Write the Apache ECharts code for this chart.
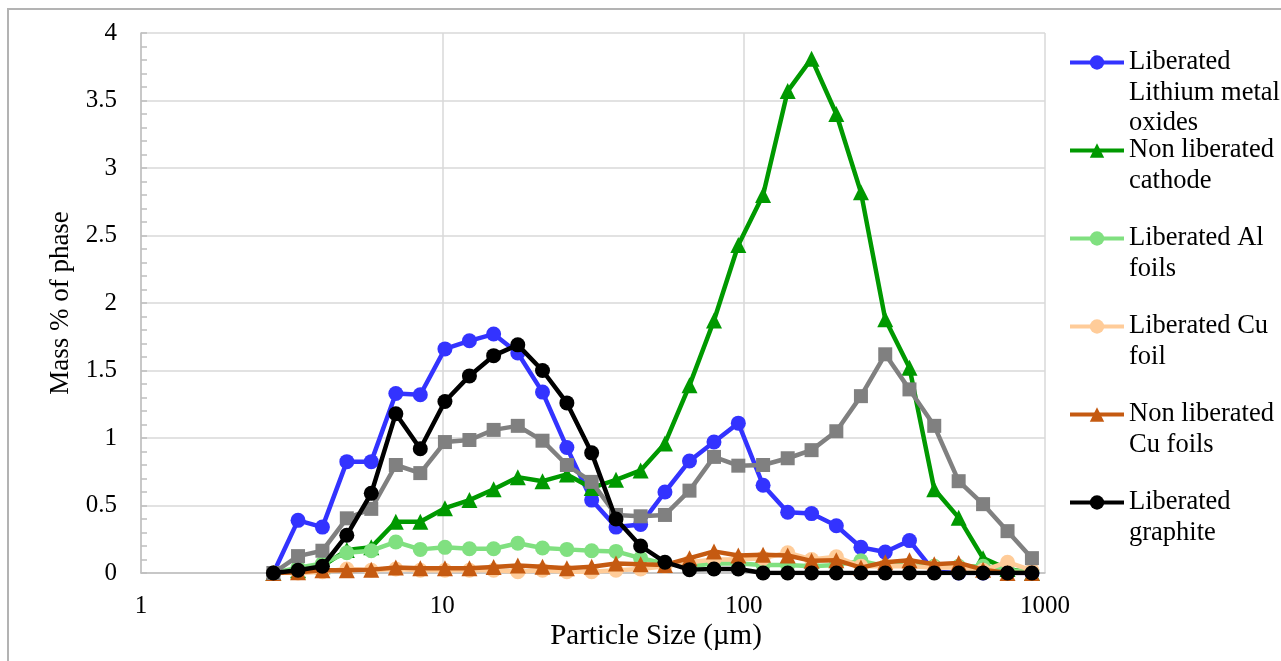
<!DOCTYPE html>
<html><head><meta charset="utf-8">
<script src="https://cdn.jsdelivr.net/npm/echarts@6/dist/echarts.min.js"></script>
<style>html,body{margin:0;padding:0;background:#fff}#chart{width:1281px;height:661px}</style>
</head><body><div id="chart"></div>
<script>
// Particle size (µm)
const particleSize = [2.75, 3.32, 4.0, 4.82, 5.81, 7.01, 8.45, 10.2, 12.3, 14.8, 17.8, 21.5, 25.9, 31.3, 37.7, 45.5,
  54.8, 66.1, 79.7, 96, 116, 140, 168, 203, 245, 295, 355, 429, 517, 623, 751, 905];

const liberatedLMO = [0, 0.39, 0.34, 0.825, 0.825, 1.33, 1.32, 1.66, 1.72, 1.77, 1.63, 1.34, 0.93, 0.54, 0.34, 0.36,
  0.60, 0.83, 0.97, 1.11, 0.65, 0.45, 0.44, 0.35, 0.19, 0.155, 0.24, 0.01, 0, 0, 0, 0];
const nonLiberatedCathode = [0, 0.02, 0.05, 0.17, 0.19, 0.38, 0.38, 0.48, 0.54, 0.62, 0.71, 0.68, 0.73, 0.63, 0.69, 0.76,
  0.96, 1.39, 1.87, 2.43, 2.80, 3.57, 3.81, 3.40, 2.82, 1.88, 1.52, 0.62, 0.41, 0.11, 0.03, 0];
const liberatedAl = [0, 0.04, 0.07, 0.15, 0.165, 0.23, 0.175, 0.19, 0.18, 0.18, 0.22, 0.185, 0.175, 0.165, 0.16, 0.11,
  0.07, 0.05, 0.07, 0.07, 0.06, 0.06, 0.05, 0.06, 0.09, 0.05, 0.06, 0.05, 0.05, 0.05, 0.02, 0.01];
const liberatedCu = [0, 0, 0.01, 0.03, 0.02, 0.03, 0.02, 0.02, 0.02, 0.02, 0.01, 0.02, 0.01, 0.01, 0.02, 0.03,
  0.05, 0.08, 0.10, 0.10, 0.11, 0.15, 0.10, 0.12, 0.05, 0.05, 0.05, 0.04, 0.04, 0.02, 0.08, 0.02];
const nonLiberatedCu = [0, 0.005, 0.02, 0.02, 0.025, 0.04, 0.035, 0.035, 0.035, 0.045, 0.055, 0.047, 0.035, 0.047, 0.07, 0.065,
  0.06, 0.11, 0.16, 0.13, 0.135, 0.13, 0.09, 0.095, 0.04, 0.08, 0.095, 0.065, 0.075, 0.025, 0, 0];
const greySeries = [0, 0.125, 0.165, 0.405, 0.475, 0.80, 0.74, 0.97, 0.985, 1.06, 1.09, 0.98, 0.80, 0.675, 0.43, 0.42,
  0.43, 0.61, 0.86, 0.795, 0.80, 0.85, 0.91, 1.05, 1.31, 1.62, 1.36, 1.09, 0.68, 0.51, 0.31, 0.11];
const liberatedGraphite = [0, 0.02, 0.05, 0.28, 0.59, 1.18, 0.92, 1.27, 1.46, 1.61, 1.69, 1.50, 1.26, 0.89, 0.40, 0.20,
  0.08, 0.025, 0.03, 0.03, 0, 0, 0, 0, 0, 0, 0, 0, 0, 0, 0, 0];

const seriesNames = ['Liberated Lithium metal oxides', 'Non liberated cathode', 'Liberated Al foils',
  'Liberated Cu foil', 'Non liberated Cu foils', 'Unlabelled series', 'Liberated graphite'];
const legendLabels = ['Liberated\nLithium metal\noxides', 'Non liberated\ncathode', 'Liberated Al\nfoils',
  'Liberated Cu\nfoil', 'Non liberated\nCu foils', null, 'Liberated\ngraphite'];
const yTitle = 'Mass % of phase';
const xTitle = 'Particle Size (µm)';

const FONT = "'Liberation Serif', 'Times New Roman', serif";
const LEGEND_LINE_W = 4;
const SERIES_LINE_W = 4.5;
const styles = [
  {color: '#3333FF', symbol: 'circle', size: 15},
  {color: '#009900', symbol: 'triangle', size: 16},
  {color: '#80E080', symbol: 'circle', size: 15},
  {color: '#FFCC99', symbol: 'circle', size: 15},
  {color: '#C55A11', symbol: 'triangle', size: 16},
  {color: '#808080', symbol: 'rect', size: 14},
  {color: '#000000', symbol: 'circle', size: 15}
];
const values = [liberatedLMO, nonLiberatedCathode, liberatedAl, liberatedCu, nonLiberatedCu, greySeries, liberatedGraphite];

const series = values.map((arr, i) => ({
  name: seriesNames[i],
  type: 'line',
  data: arr.map((v, k) => [particleSize[k], v]),
  symbol: styles[i].symbol,
  symbolSize: styles[i].size,
  showAllSymbol: true,
  lineStyle: {color: styles[i].color, width: SERIES_LINE_W, type: 'solid'},
  itemStyle: {color: styles[i].color, borderWidth: 0},
  emphasis: {disabled: true},
  z: 2 + i,
  animation: false
}));

const LH = 30.5;
const legends = [];
let li = 0;
legendLabels.forEach((lab, i) => {
  if (!lab) return;
  const lines = lab.split('\n').length;
  const shown = '\n'.repeat(lines - 1) + lab;   // first line level with the symbol
  const center = 62.5 + 88 * li;
  legends.push({
    data: [seriesNames[i]],
    left: 1068,
    top: center - (2 * lines - 1) * LH / 2,
    padding: 0,
    itemWidth: 54,
    itemHeight: 18,
    formatter: () => shown,
    lineStyle: {width: LEGEND_LINE_W},
    textStyle: {fontFamily: FONT, fontSize: 26.5, lineHeight: LH, color: '#000'}
  });
  li++;
});

const chart = echarts.init(document.getElementById('chart'), null, {renderer: 'canvas'});
chart.setOption({
  animation: false,
  backgroundColor: '#fff',
  grid: {left: 141, right: 236, top: 33, bottom: 88, containLabel: false},
  xAxis: {
    type: 'log', logBase: 10, min: 1, max: 1000,
    axisLine: {show: true, lineStyle: {color: '#bfbfbf', width: 1.5}},
    axisTick: {show: false},
    axisLabel: {fontFamily: FONT, fontSize: 25, color: '#000', margin: 21, formatter: v => String(v)},
    splitLine: {show: true, lineStyle: {color: '#d9d9d9', width: 1.5}}
  },
  yAxis: {
    type: 'value', min: 0, max: 4, interval: 0.5,
    name: yTitle, nameLocation: 'middle', nameGap: 64, nameRotate: 90,
    nameTextStyle: {fontFamily: FONT, fontSize: 27, color: '#000'},
    axisLine: {show: true, lineStyle: {color: '#bfbfbf', width: 1.5}},
    axisTick: {show: true, inside: true, length: 6, lineStyle: {color: '#bfbfbf', width: 1.5}},
    minorTick: {show: true, splitNumber: 5, length: 6, lineStyle: {color: '#bfbfbf', width: 1.5}},
    axisLabel: {fontFamily: FONT, fontSize: 25, color: '#000', margin: 24},
    splitLine: {show: true, lineStyle: {color: '#d9d9d9', width: 1.5}}
  },
  legend: legends,
  graphic: [{
    type: 'rect', silent: true, z: -1,
    shape: {x: 8, y: 9, width: 1400, height: 800},
    style: {fill: 'none', stroke: '#b3b3b3', lineWidth: 2}
  }, {
    type: 'text', silent: true, x: 656, y: 636,
    style: {text: xTitle, fontFamily: FONT, fontSize: 29, fill: '#000', align: 'center', verticalAlign: 'middle'}
  }],
  series: series
});
</script>
</body></html>
